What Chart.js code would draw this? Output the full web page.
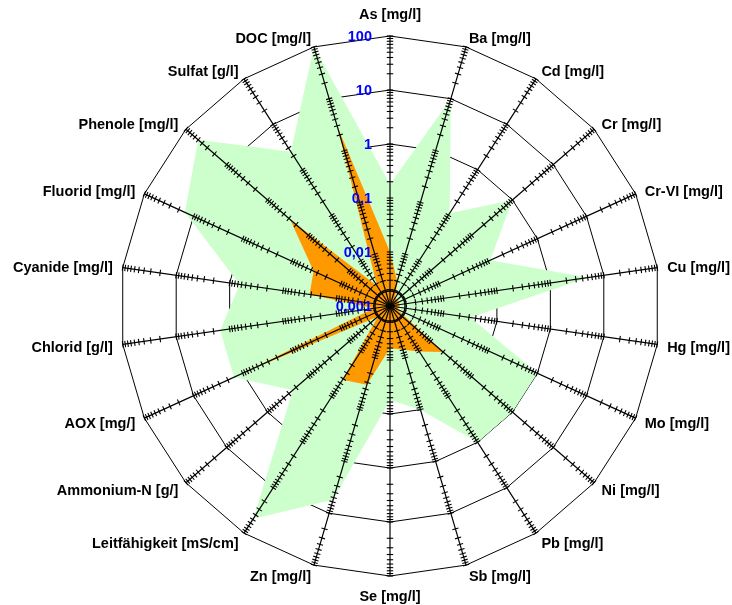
<!DOCTYPE html>
<html>
<head>
<meta charset="utf-8">
<script src="https://cdn.jsdelivr.net/npm/chart.js@4/dist/chart.umd.min.js"></script>
<style>
  html, body { margin: 0; padding: 0; background: #fff; }
  #wrap { width: 732px; height: 605px; position: relative; }
</style>
</head>
<body>
<div id="wrap"><canvas id="c"></canvas></div>
<script>
// Parameters on the spokes, clockwise from the top
const parameters = [
  'As [mg/l]', 'Ba [mg/l]', 'Cd [mg/l]', 'Cr [mg/l]', 'Cr-VI [mg/l]', 'Cu [mg/l]',
  'Hg [mg/l]', 'Mo [mg/l]', 'Ni [mg/l]', 'Pb [mg/l]', 'Sb [mg/l]', 'Se [mg/l]',
  'Zn [mg/l]', 'Leitfähigkeit [mS/cm]', 'Ammonium-N [g/]', 'AOX [mg/]', 'Chlorid [g/l]',
  'Cyanide [mg/l]', 'Fluorid [mg/l]', 'Phenole [mg/l]', 'Sulfat [g/l]', 'DOC [mg/l]'
];

// Upper range (green area)
const rangeValues = [
  0.18, 10, 0.11, 1.0, 0.11, 5.0,
  0.032, 1.0, 1.0, 1.0, 0.1, 0.055,
  5.5, 48, 0.24, 1.5, 1.5,
  0.65, 15, 50, 2.5, 100
];

// Measured values (orange area)
const sampleValues = [
  0.01, 0.003, 0.0015, 0.0015, 0.0015, 0.0015,
  0.0015, 0.0014, 0.02, 0.01, 0.007, 0.006,
  0.033, 0.042, 0.002, 0.8, 0.002,
  0.032, 0.036, 0.28, 0.0028, 3.0
];

// Logarithmic axis: decades and their labels
const tickValues = [0.001, 0.01, 0.1, 1, 10, 100];
const tickLabels = ['0,001', '0,01', '0,1', '1', '10', '100'];

const HUB_VALUE = 0.0019;
const LABEL_FONT = 'bold 14.5px "Liberation Sans", Arial, sans-serif';
const TICK_FONT = 'bold 14.5px "Liberation Sans", Arial, sans-serif';

// Spokes with logarithmic tick marks, hub circle and all texts
const axisDecor = {
  id: 'axisDecor',
  afterDatasetsDraw(chart) {
    const s = chart.scales.r;
    const ctx = chart.ctx;
    const n = chart.data.labels.length;
    const outer = s.getDistanceFromCenterForValue(s.max);
    ctx.save();
    ctx.strokeStyle = '#000';
    ctx.lineWidth = 1.2;

    for (let i = 0; i < n; i++) {
      const p = s.getPointPosition(i, outer);
      ctx.beginPath();
      ctx.moveTo(s.xCenter, s.yCenter);
      ctx.lineTo(p.x, p.y);
      ctx.stroke();
    }

    const marks = [];
    for (let e = -3; e < 2; e++) {
      for (let m = 1; m < 10; m++) marks.push(e + Math.log10(m));
    }
    marks.push(2);
    ctx.lineWidth = 1.1;
    for (let i = 0; i < n; i++) {
      for (const v of marks) {
        const r = s.getDistanceFromCenterForValue(v);
        if (r < 1) continue;
        const p = s.getPointPosition(i, r);
        const nx = -Math.sin(p.angle) * 3.2;
        const ny = Math.cos(p.angle) * 3.2;
        ctx.beginPath();
        ctx.moveTo(p.x - nx, p.y - ny);
        ctx.lineTo(p.x + nx, p.y + ny);
        ctx.stroke();
      }
    }

    ctx.lineWidth = 1.4;
    ctx.beginPath();
    ctx.arc(s.xCenter, s.yCenter, s.getDistanceFromCenterForValue(Math.log10(HUB_VALUE)), 0, Math.PI * 2);
    ctx.stroke();
    ctx.restore();
  },
  afterDraw(chart) {
    const s = chart.scales.r;
    const ctx = chart.ctx;
    const labels = chart.data.labels;
    const outer = s.getDistanceFromCenterForValue(s.max);
    ctx.save();
    ctx.textBaseline = 'middle';

    ctx.font = LABEL_FONT;
    ctx.fillStyle = '#000';
    labels.forEach((text, i) => {
      const p = s.getPointPosition(i, outer + 10);
      const c = Math.cos(p.angle);
      const sn = Math.sin(p.angle);
      let y = p.y + 2;
      if (Math.abs(c) < 0.01) {
        ctx.textAlign = 'center';
        y = p.y + (sn < 0 ? -11 : 11);
      } else {
        ctx.textAlign = c > 0 ? 'left' : 'right';
      }
      ctx.fillText(text, p.x, y);
    });

    ctx.font = TICK_FONT;
    ctx.fillStyle = '#0000ff';
    ctx.textAlign = 'right';
    tickValues.forEach((v, k) => {
      const r = s.getDistanceFromCenterForValue(Math.log10(v));
      ctx.fillText(tickLabels[k], s.xCenter - 18, s.yCenter - r + 1);
    });
    ctx.restore();
  }
};

new Chart(document.getElementById('c'), {
  type: 'radar',
  data: {
    labels: parameters,
    datasets: [
      {
        label: 'Messwert',
        data: sampleValues.map(v => Math.log10(v)),
        backgroundColor: '#ff9900',
        borderColor: 'rgba(0,0,0,0)',
        borderWidth: 0,
        pointRadius: 0,
        fill: 'start',
        order: 1
      },
      {
        label: 'Bereich',
        data: rangeValues.map(v => Math.log10(v)),
        backgroundColor: '#ccffcc',
        borderColor: 'rgba(0,0,0,0)',
        borderWidth: 0,
        pointRadius: 0,
        fill: 'start',
        order: 2
      }
    ]
  },
  options: {
    responsive: true,
    maintainAspectRatio: false,
    animation: false,
    layout: { padding: { left: 120, right: 72, top: 36, bottom: 29 } },
    elements: { line: { tension: 0 } },
    plugins: { legend: { display: false }, tooltip: { enabled: false } },
    scales: {
      r: {
        min: -3,
        max: 2,
        ticks: { display: false, stepSize: 1 },
        pointLabels: { display: false },
        angleLines: { display: false },
        grid: { color: '#000', lineWidth: 1 }
      }
    }
  },
  plugins: [axisDecor]
});
</script>
</body>
</html>
